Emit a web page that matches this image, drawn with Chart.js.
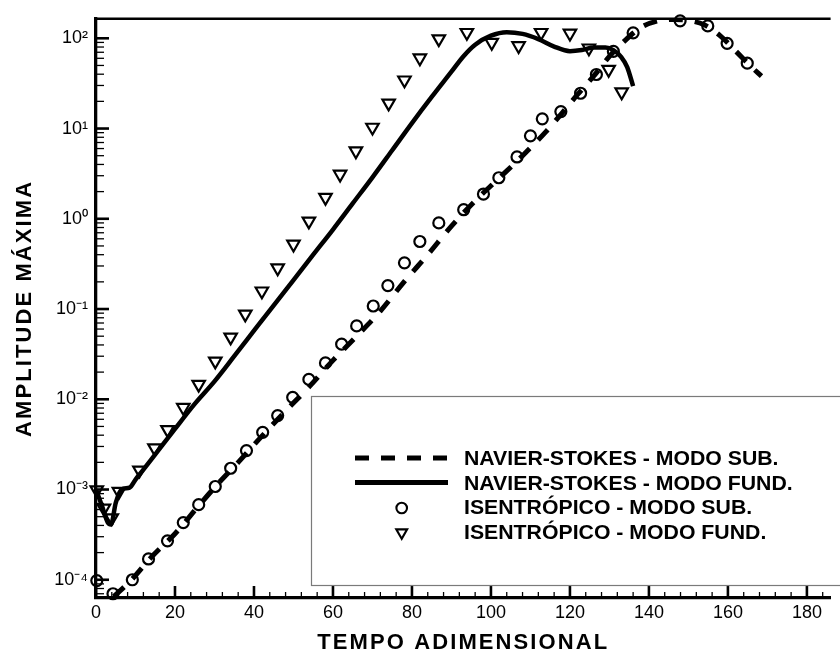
<!DOCTYPE html>
<html>
<head>
<meta charset="utf-8">
<script src="https://cdn.jsdelivr.net/npm/chart.js@4.4.0/dist/chart.umd.min.js"></script>
<style>
html,body{margin:0;padding:0;background:#fff;}
#wrap{width:840px;height:656px;}
</style>
</head>
<body>
<div id="wrap"><canvas id="c" width="840" height="656"></canvas></div>
<script>
// ---------- data ----------
const xTickValues = [0, 20, 40, 60, 80, 100, 120, 140, 160, 180];
const xTickLabels = ['0', '20', '40', '60', '80', '100', '120', '140', '160', '180'];
const yTickValues = [1e-4, 1e-3, 1e-2, 1e-1, 1, 10, 100];
const yTickLabels = ['10⁻⁴', '10⁻³', '10⁻²', '10⁻¹', '10⁰', '10¹', '10²'];
const xAxisTitle = 'TEMPO ADIMENSIONAL';
const yAxisTitle = 'AMPLITUDE MÁXIMA';
const seriesLabels = [
  'NAVIER-STOKES - MODO SUB.',
  'NAVIER-STOKES - MODO FUND.',
  'ISENTRÓPICO - MODO SUB.',
  'ISENTRÓPICO - MODO FUND.'
];

// Navier-Stokes, subharmonic mode (dashed line)
const nsSubTime = [4.5, 9, 14, 20, 26, 30, 36, 42, 48, 54, 60, 66, 72, 78, 84, 90, 96, 102, 108, 114, 118, 122, 126, 130, 134, 138, 142, 146, 150, 154, 158, 162, 166, 168.5];
const nsSubAmp  = [6.5e-5, 1.0e-4, 1.78e-4, 3.24e-4, 6.6e-4, 1.05e-3, 2.0e-3, 3.9e-3, 7.4e-3, 1.38e-2, 2.7e-2, 5.0e-2, 9.5e-2, 0.20, 0.40, 0.83, 1.58, 2.8, 5.0, 9.3, 14.8, 24.0, 38, 63, 95, 132, 155, 162, 158, 141, 107, 72, 48, 38];

// Navier-Stokes, fundamental mode (solid line)
const nsFundTime = [0, 1.5, 3, 3.8, 5, 6.5, 8.5, 10, 12, 15, 20, 25, 30, 35, 40, 45, 50, 55, 60, 65, 70, 75, 80, 85, 90, 93, 96, 100, 104, 108, 112, 116, 120, 123, 126, 129, 131, 133, 134.5, 136];
const nsFundAmp  = [1.0e-3, 6.6e-4, 4.3e-4, 4.1e-4, 7.1e-4, 1.0e-3, 1.05e-3, 1.29e-3, 1.66e-3, 2.45e-3, 4.7e-3, 8.9e-3, 1.58e-2, 3.0e-2, 5.75e-2, 0.110, 0.209, 0.40, 0.76, 1.48, 2.88, 5.75, 11.5, 22.4, 42.7, 63, 85, 107, 117, 112, 98, 81, 72, 74, 79, 79, 74, 62, 48, 29.5];

// Isentropic, subharmonic mode (circles)
const isoSubTime = [0.2, 4.3, 9.2, 13.3, 18.1, 22.1, 26.0, 30.2, 34.1, 38.1, 42.2, 46.0, 49.8, 53.9, 58.1, 62.2, 66.0, 70.2, 73.9, 78.1, 82.0, 86.8, 93.1, 98.1, 102.0, 106.6, 110.0, 113.0, 117.7, 122.7, 126.7, 131.0, 136.0, 147.9, 154.9, 159.8, 164.9];
const isoSubAmp  = [9.8e-5, 7.0e-5, 1.0e-4, 1.7e-4, 2.7e-4, 4.3e-4, 6.8e-4, 1.08e-3, 1.72e-3, 2.7e-3, 4.3e-3, 6.6e-3, 1.05e-2, 1.66e-2, 2.53e-2, 4.08e-2, 6.5e-2, 0.108, 0.182, 0.325, 0.56, 0.90, 1.26, 1.88, 2.85, 4.84, 8.3, 12.8, 15.4, 24.6, 39.7, 71.5, 115, 156, 137, 88, 53];

// Isentropic, fundamental mode (triangles)
const isoFundTime = [0.2, 2.0, 4.0, 5.8, 11.0, 14.8, 18.1, 22.1, 26.0, 30.2, 34.1, 37.8, 42.0, 46.0, 50.0, 53.9, 58.1, 61.8, 65.8, 70.0, 74.1, 78.1, 82.0, 86.8, 93.9, 100.2, 107.0, 112.7, 120.0, 124.8, 129.8, 133.1];
const isoFundAmp  = [9.9e-4, 6.2e-4, 4.85e-4, 9.5e-4, 1.64e-3, 2.89e-3, 4.6e-3, 8.1e-3, 1.46e-2, 2.64e-2, 4.88e-2, 8.77e-2, 0.158, 0.285, 0.522, 0.94, 1.72, 3.11, 5.64, 10.3, 19.1, 34.4, 60.4, 98.5, 115.6, 89.8, 82.6, 115.6, 113.6, 77.8, 45.1, 25.4];

// ---------- chart ----------
const FAM = '"Liberation Sans", Arial, Helvetica, sans-serif';
const pts = (xs, ys) => xs.map((x, i) => ({x: x, y: ys[i]}));

const decoPlugin = {
  id: 'deco',
  beforeDraw(chart) {
    chart.ctx.letterSpacing = '2.1px';   // axis titles (drawn before datasets)
  },
  beforeDatasetsDraw(chart) {
    const ctx = chart.ctx;
    ctx.letterSpacing = '0px';
    const {left, right, top, bottom} = chart.chartArea;
    const xs = chart.scales.x, ys = chart.scales.y;
    ctx.save();
    ctx.strokeStyle = '#000';
    ctx.lineCap = 'butt';
    ctx.lineWidth = 2.6;
    ctx.beginPath(); ctx.moveTo(left - 1.6, top); ctx.lineTo(right, top); ctx.stroke();
    for (let e = -5; e <= 2; e++) {
      for (let k = 1; k <= 9; k++) {
        const v = k * Math.pow(10, e);
        if (v < ys.min || v > ys.max) continue;
        const py = ys.getPixelForValue(v);
        const major = (k === 1);
        ctx.lineWidth = major ? 2.6 : 1.3;
        ctx.beginPath(); ctx.moveTo(left, py); ctx.lineTo(left + (major ? 13 : 8), py); ctx.stroke();
      }
    }
    for (let t = 0; t <= xs.max; t += 4) {
      const px = xs.getPixelForValue(t);
      const major = (t % 20 === 0);
      ctx.lineWidth = major ? 2.6 : 1.3;
      ctx.beginPath(); ctx.moveTo(px, bottom); ctx.lineTo(px, bottom - (major ? 12 : 6)); ctx.stroke();
    }
    ctx.restore();
  },
  afterDraw(chart) {
    const ctx = chart.ctx;
    const ds = chart.data.datasets;
    ctx.save();
    ctx.letterSpacing = '0px';
    const bx = 311, by = 396, bw = 540, bh = 189;
    ctx.fillStyle = '#fff';
    ctx.fillRect(bx, by, bw, bh);
    ctx.strokeStyle = '#7a7a7a';
    ctx.lineWidth = 1.2;
    ctx.strokeRect(bx + 0.5, by + 0.5, bw, bh);
    const sx0 = 355, sx1 = 448, mx = 401.7, tx = 464;
    const rowY = [458, 482.5, 507, 531.5];
    ds.forEach((d, i) => {
      const y = rowY[i];
      ctx.strokeStyle = '#000';
      ctx.setLineDash([]);
      if (d.showLine) {
        ctx.lineWidth = 5;
        ctx.setLineDash(d.borderDash || []);
        ctx.beginPath(); ctx.moveTo(sx0, y); ctx.lineTo(sx1, y); ctx.stroke();
        ctx.setLineDash([]);
      } else if (d.pointStyle === 'circle') {
        ctx.lineWidth = 2.1;
        ctx.beginPath(); ctx.arc(mx, y + 1, 5.3, 0, Math.PI * 2); ctx.stroke();
      } else {
        ctx.lineWidth = 2.1;
        const r = 6.3;
        ctx.beginPath();
        ctx.moveTo(mx, y + 1 + r);
        ctx.lineTo(mx - r * 0.866, y + 1 - r / 2);
        ctx.lineTo(mx + r * 0.866, y + 1 - r / 2);
        ctx.closePath(); ctx.stroke();
      }
      ctx.fillStyle = '#000';
      ctx.font = 'bold 19.5px ' + FAM;
      ctx.textBaseline = 'alphabetic';
      ctx.textAlign = 'left';
      ctx.save();
      ctx.translate(tx, y + 7);
      ctx.scale(1.09, 1);
      ctx.fillText(d.label, 0, 0);
      ctx.restore();
    });
    ctx.restore();
  }
};

new Chart(document.getElementById('c'), {
  type: 'scatter',
  data: {
    datasets: [
      {
        label: seriesLabels[0],
        data: pts(nsSubTime, nsSubAmp),
        showLine: true,
        borderColor: '#000',
        backgroundColor: '#000',
        borderWidth: 5,
        borderDash: [14, 12],
        borderCapStyle: 'butt',
        pointRadius: 0,
        cubicInterpolationMode: 'monotone',
        fill: false
      },
      {
        label: seriesLabels[1],
        data: pts(nsFundTime, nsFundAmp),
        showLine: true,
        borderColor: '#000',
        backgroundColor: '#000',
        borderWidth: 4.5,
        pointRadius: 0,
        cubicInterpolationMode: 'monotone',
        fill: false
      },
      {
        label: seriesLabels[2],
        data: pts(isoSubTime, isoSubAmp),
        showLine: false,
        pointStyle: 'circle',
        pointRadius: 5.5,
        borderWidth: 2.2,
        borderColor: '#000',
        backgroundColor: 'rgba(0,0,0,0)',
        clip: false
      },
      {
        label: seriesLabels[3],
        data: pts(isoFundTime, isoFundAmp),
        showLine: false,
        pointStyle: 'triangle',
        rotation: 180,
        pointRadius: 7.2,
        borderWidth: 2.2,
        borderColor: '#000',
        backgroundColor: 'rgba(0,0,0,0)',
        clip: false
      }
    ]
  },
  options: {
    responsive: false,
    animation: false,
    devicePixelRatio: 1,
    layout: {padding: {top: 12, left: 0, right: 0, bottom: 0}},
    plugins: {legend: {display: false}, tooltip: {enabled: false}},
    scales: {
      x: {
        type: 'linear',
        min: 0,
        max: 186,
        bounds: 'data',
        afterBuildTicks: s => { s.ticks = xTickValues.map(v => ({value: v})); },
        afterFit: s => { s.height = 58; },
        grid: {drawOnChartArea: false, drawTicks: false},
        border: {display: true, width: 3.3, color: '#000'},
        ticks: {
          z: 1, padding: 4, color: '#000', maxRotation: 0, autoSkip: false,
          font: {family: FAM, size: 18},
          callback: (v, i) => xTickLabels[i]
        },
        title: {
          display: true, text: xAxisTitle, color: '#000',
          font: {family: FAM, size: 22, weight: 'bold', lineHeight: 1},
          padding: {top: 0, bottom: 2}
        }
      },
      y: {
        type: 'logarithmic',
        min: 6.28e-5,
        max: 164.4,
        bounds: 'data',
        afterBuildTicks: s => { s.ticks = yTickValues.map(v => ({value: v})); },
        afterFit: s => { s.width = 96; },
        grid: {drawOnChartArea: false, drawTicks: false},
        border: {display: true, width: 3.3, color: '#000'},
        ticks: {
          z: 1, padding: 8, color: '#000', autoSkip: false,
          font: {family: FAM, size: 18},
          callback: (v, i) => yTickLabels[i]
        },
        title: {
          display: true, text: yAxisTitle, color: '#000',
          font: {family: FAM, size: 22, weight: 'bold', lineHeight: 1},
          padding: {top: 13.5, bottom: 0}
        }
      }
    }
  },
  plugins: [decoPlugin]
});
</script>
</body>
</html>
